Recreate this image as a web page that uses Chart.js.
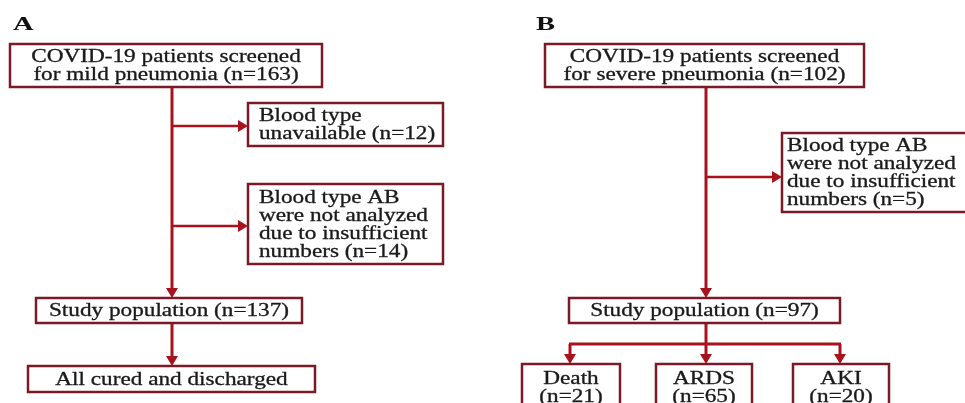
<!DOCTYPE html>
<html>
<head>
<meta charset="utf-8">
<script src="https://cdn.jsdelivr.net/npm/chart.js@4/dist/chart.umd.min.js"></script>
<style>
  html, body { margin: 0; padding: 0; background: #fff; }
  #wrap { width: 965px; height: 403px; }
</style>
</head>
<body>
<div id="wrap"><canvas id="flow"></canvas></div>
<script>
// panel titles
const panels = ["A", "B"];

// step texts ("|" = line break) and patient counts
const mildSteps = ["COVID-19 patients screened|for mild pneumonia", "Blood type|unavailable",
    "Blood type AB|were not analyzed|due to insufficient|numbers", "Study population", "All cured and discharged"];
const mildCounts = [163, 12, 14, 137, null];
const severeSteps = ["COVID-19 patients screened|for severe pneumonia",
    "Blood type AB|were not analyzed|due to insufficient|numbers", "Study population", "Death", "ARDS", "AKI"];
const severeCounts = [102, 5, 97, 21, 65, 20];

// layout, in scale units: [x0, y0, x1, y1, align, pad, count on own line]
const mildBoxes = [[10, 44, 322, 87, "c"], [248, 103, 443, 146, "l", 11], [248, 184, 443, 264, "l", 11],
    [36, 298, 302, 323, "c"], [28, 366, 315, 392, "c"]];
const severeBoxes = [[545, 44, 864, 87, "c"], [782, 133, 980, 212, "l", 5], [569, 298, 840, 323, "c"],
    [522, 364, 620, 411, "c", 0, true], [656, 364, 752, 411, "c", 0, true], [793, 364, 889, 411, "c", 0, true]];
const panelPos = [[13, 30], [536, 30]];

// connectors: [x0, y0, x1, y1, width, arrow]
const links = [
    [172, 87, 172, 298, 3, true], [172, 126, 248, 126, 2.5, true], [172, 226, 248, 226, 2.5, true],
    [172, 323, 172, 366, 3, true],
    [706, 87, 706, 298, 3, true], [706, 177, 782, 177, 2.5, true],
    [706, 323, 706, 344, 3, false], [569, 344, 841, 344, 3, false],
    [570, 344, 570, 364, 3, true], [706, 344, 706, 364, 3, true], [840, 344, 840, 364, 3, true]
];

const SX = 1.29, LINE_H = 18, FONT = '"Liberation Serif", "Times New Roman", serif';

const flowPlugin = {
    id: "flow",
    afterDraw(chart) {
        const ctx = chart.ctx, xs = chart.scales.x, ys = chart.scales.y;
        const px = v => xs.getPixelForValue(v), py = v => ys.getPixelForValue(v);
        ctx.save();
        // connectors
        ctx.strokeStyle = "#a8121d"; ctx.fillStyle = "#a8121d";
        links.forEach(([x0, y0, x1, y1, w, arrow]) => {
            const ax = px(x0), ay = py(y0), bx = px(x1), by = py(y1);
            const dx = Math.sign(bx - ax), dy = Math.sign(by - ay), head = arrow ? 8 : 0;
            ctx.lineWidth = w;
            ctx.beginPath(); ctx.moveTo(ax, ay); ctx.lineTo(bx - dx * head, by - dy * head); ctx.stroke();
            if (arrow) {
                ctx.beginPath();
                ctx.moveTo(bx, by);
                ctx.lineTo(bx - dx * 10 - dy * 6, by - dy * 10 - dx * 6);
                ctx.lineTo(bx - dx * 10 + dy * 6, by - dy * 10 + dx * 6);
                ctx.closePath(); ctx.fill();
            }
        });
        // boxes
        const drawBoxes = (steps, counts, boxes) => steps.forEach((s, i) => {
            const [x0, y0, x1, y1, align, pad = 0, own] = boxes[i];
            const l = px(x0), t = py(y0), r = px(x1), b = py(y1);
            ctx.fillStyle = "#fff"; ctx.fillRect(l, t, r - l, b - t);
            ctx.strokeStyle = "#7a1a27"; ctx.lineWidth = 2.5; ctx.strokeRect(l, t, r - l, b - t);
            const lines = s.split("|");
            if (counts[i] != null) {
                if (own) lines.push(`(n=${counts[i]})`);
                else lines[lines.length - 1] += ` (n=${counts[i]})`;
            }
            ctx.fillStyle = "#1a1a1a"; ctx.strokeStyle = "#1a1a1a"; ctx.lineWidth = 0.3;
            ctx.font = "18px " + FONT;
            ctx.textBaseline = "middle"; ctx.textAlign = align === "l" ? "left" : "center";
            const cy = (t + b) / 2 - (lines.length - 1) * LINE_H / 2;
            lines.forEach((ln, k) => {
                ctx.save();
                ctx.translate(align === "l" ? l + pad : (l + r) / 2, cy + k * LINE_H + 1);
                ctx.scale(SX, 1); ctx.fillText(ln, 0, 0); ctx.strokeText(ln, 0, 0);
                ctx.restore();
            });
        });
        drawBoxes(mildSteps, mildCounts, mildBoxes);
        drawBoxes(severeSteps, severeCounts, severeBoxes);
        // panel letters
        ctx.fillStyle = "#111"; ctx.font = "bold 19px " + FONT;
        ctx.textAlign = "left"; ctx.textBaseline = "alphabetic";
        panels.forEach((p, i) => {
            ctx.save(); ctx.translate(px(panelPos[i][0]), py(panelPos[i][1]));
            ctx.scale(1.5, 1); ctx.fillText(p, 0, 0); ctx.restore();
        });
        ctx.restore();
    }
};

new Chart(document.getElementById("flow"), {
    type: "scatter",
    data: { datasets: [] },
    options: {
        responsive: true, maintainAspectRatio: false, animation: false,
        layout: { padding: 0 },
        plugins: { legend: { display: false }, tooltip: { enabled: false } },
        scales: {
            x: { type: "linear", min: 0, max: 965, display: false },
            y: { type: "linear", min: 0, max: 403, reverse: true, display: false }
        }
    },
    plugins: [flowPlugin]
});
</script>
</body>
</html>
